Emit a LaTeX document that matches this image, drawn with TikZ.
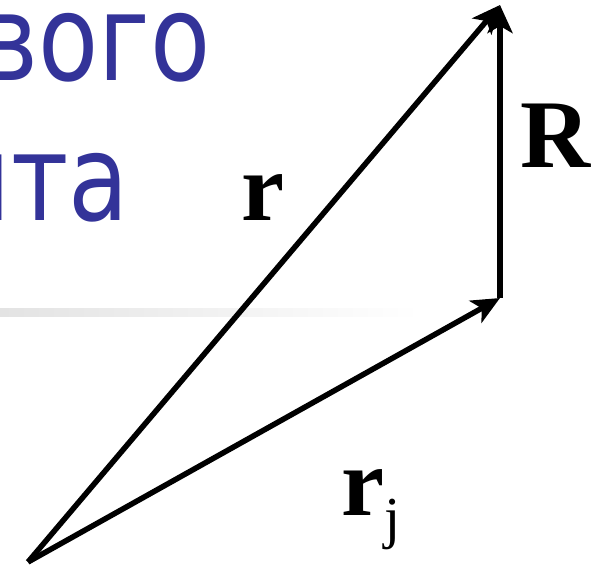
\documentclass[tikz,border=0pt]{standalone}
\usepackage{fontspec}
\setmainfont{Liberation Serif}
\newfontfamily\titlefont{DejaVu Sans}
\usetikzlibrary{calc, positioning, arrows.meta}
\definecolor{titleblue}{HTML}{333399}

\begin{document}
\begin{tikzpicture}[
  x=1pt, y=-1pt,
  vec/.style={-{Stealth[length=28pt, width=25pt, inset=7pt]}, line width=5.5pt},
  lbl/.style={inner sep=0pt, anchor=base, font=\fontsize{97}{97}\selectfont\bfseries},
  ttl/.style={inner sep=0pt, anchor=base east, text=titleblue, font=\titlefont\fontsize{120}{120}\selectfont}
]
\useasboundingbox (0,0) rectangle (593,570);
% title remnants and rule
\node[ttl] (t1) at (211,80) {\scalebox{0.82}[1]{вого}};
\node[ttl] (t2) at (129,220) {\scalebox{0.82}[1]{нта}};
\shade[left color=gray!22, right color=white] (0,308) rectangle (420,316);

\coordinate (o) at (28,562);
\coordinate (a) at (500,298);
\coordinate (b) at (500,5);

\draw[vec] (o) -- (b);
\draw[vec] (o) -- (a);
\draw[vec] (a) -- (b);

\node[lbl] (r) at (263,220) {r};
\node[lbl] (bigr) at (556,167) {R};
\node[lbl, anchor=base west] (rj) at (341,515) {r\raisebox{-22pt}{\fontsize{58}{58}\selectfont\mdseries j}};
\end{tikzpicture}
\end{document}
